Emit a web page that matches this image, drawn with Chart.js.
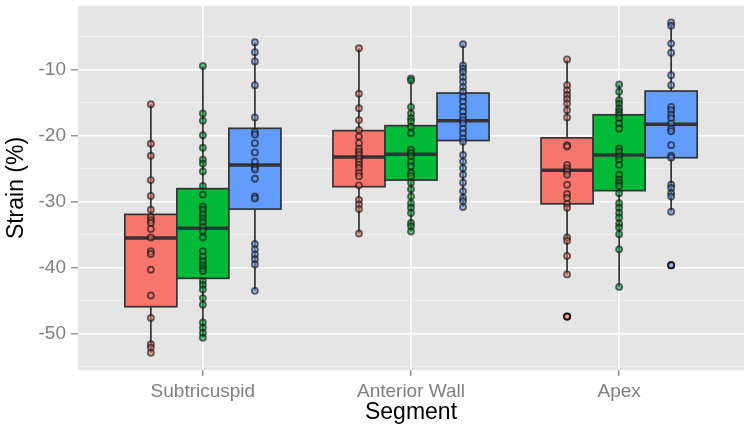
<!DOCTYPE html>
<html>
<head>
<meta charset="utf-8">
<script src="https://cdn.jsdelivr.net/npm/chart.js@4.4.1/dist/chart.umd.min.js"></script>
<style>
  html, body { margin: 0; padding: 0; background: #ffffff; }
</style>
</head>
<body>
<canvas id="myChart" width="750" height="437"></canvas>
<script>
// categories on the x axis
const segments = ['Subtricuspid', 'Anterior Wall', 'Apex'];
const yLabels = [-50, -40, -30, -20, -10];
const yMinor = [-55, -45, -35, -25, -15, -5];

// strain values per group, one list per segment (Subtricuspid, Anterior Wall, Apex)
const groupAValues = [
  [-15.2, -21.2, -23.0, -26.7, -29.1, -31.2, -32.3, -32.8, -33.2, -34.1, -35.4, -37.5, -37.9, -40.3, -44.2, -47.6, -51.6, -52.1, -52.9],
  [-6.7, -13.6, -15.8, -17.6, -19.1, -20.1, -21.1, -21.9, -22.4, -22.9, -23.4, -23.9, -24.4, -24.9, -25.6, -26.1, -27.5, -29.7, -30.4, -31.1, -34.8],
  [-8.4, -12.3, -13.1, -13.8, -14.4, -15.1, -16.1, -17.2, -21.4, -21.6, -24.4, -24.9, -25.4, -25.9, -27.4, -28.8, -29.4, -30.3, -30.9, -35.4, -35.9, -38.2, -41.0, -47.4]
];
const groupBValues = [
  [-9.4, -16.6, -17.7, -19.9, -21.8, -23.6, -24.2, -25.4, -27.6, -28.9, -30.7, -31.2, -31.9, -32.5, -33.1, -33.8, -34.4, -35.4, -37.5, -38.3, -39.0, -39.6, -40.1, -40.5, -42.0, -42.6, -43.3, -44.6, -45.6, -48.3, -49.1, -49.9, -50.6],
  [-11.3, -11.6, -15.6, -16.6, -17.3, -17.8, -18.6, -19.6, -22.1, -22.6, -23.1, -23.9, -24.6, -25.6, -26.1, -27.1, -28.1, -29.2, -30.2, -30.9, -31.7, -33.2, -33.7, -34.5],
  [-12.2, -13.3, -14.6, -15.1, -15.8, -16.3, -16.8, -17.3, -18.1, -18.9, -21.9, -22.4, -23.1, -23.6, -24.4, -25.9, -26.6, -27.1, -27.6, -28.7, -30.2, -30.9, -31.7, -32.4, -33.3, -33.9, -34.9, -37.2, -42.9]
];
const groupCValues = [
  [-5.8, -7.3, -8.7, -12.3, -17.2, -19.4, -19.8, -21.1, -22.5, -23.9, -24.8, -25.1, -26.5, -29.2, -29.5, -36.4, -37.2, -38.0, -38.7, -39.5, -43.5],
  [-6.1, -9.3, -9.8, -10.3, -11.1, -11.8, -12.6, -13.3, -14.1, -14.8, -15.6, -16.3, -17.1, -17.6, -18.1, -18.9, -19.6, -20.4, -20.9, -22.9, -23.9, -24.9, -25.9, -27.1, -28.4, -29.4, -29.9, -30.8],
  [-2.8, -3.3, -6.0, -7.4, -10.8, -12.3, -15.6, -16.1, -16.8, -17.3, -18.1, -18.9, -19.3, -21.4, -23.0, -23.3, -27.4, -27.9, -28.7, -29.2, -31.5, -39.6]
];

// box summaries: [lower whisker, Q1, median, Q3, upper whisker]
const groupABoxes = [[-52.9, -45.9, -35.5, -31.9, -15.2], [-34.8, -27.7, -23.2, -19.2, -6.7], [-41.0, -30.3, -25.2, -20.3, -8.4]];
const groupBBoxes = [[-50.6, -41.6, -34.0, -28.0, -9.4], [-34.5, -26.7, -22.8, -18.45, -11.3], [-42.9, -28.3, -22.9, -16.8, -12.2]];
const groupCBoxes = [[-43.5, -31.1, -24.4, -18.85, -5.8], [-30.8, -20.7, -17.7, -13.5, -6.1], [-31.5, -23.3, -18.25, -13.2, -2.8]];

// outliers flagged by the boxplot
const groupAOutliers = [[], [], [-47.4]];
const groupBOutliers = [[], [], []];
const groupCOutliers = [[], [], [-39.6]];

const groupColors = ['#F8766D', '#00BA38', '#619CFF'];
const pointFills = ['rgba(248,118,109,0.55)', 'rgba(0,186,56,0.55)', 'rgba(97,156,255,0.55)'];
const groupOffsets = [-0.25, 0, 0.25];
const boxHalf = 0.125;
const fontFamily = '"Liberation Sans", Arial, sans-serif';

const allValues = [groupAValues, groupBValues, groupCValues];
const allBoxes = [groupABoxes, groupBBoxes, groupCBoxes];
const allOutliers = [groupAOutliers, groupBOutliers, groupCOutliers];

function toPoints(values, g) {
  let pts = [];
  values.forEach((list, i) => {
    list.forEach(v => pts.push({x: i + 1 + groupOffsets[g], y: v}));
  });
  return pts;
}

let datasets = allValues.map((values, g) => ({
  data: toPoints(values, g),
  pointRadius: 3,
  pointBorderWidth: 1.9,
  pointBackgroundColor: pointFills[g],
  pointBorderColor: 'rgba(20,20,20,0.62)',
  pointHoverRadius: 3
}));
let outlierPts = [];
allOutliers.forEach((o, g) => { outlierPts = outlierPts.concat(toPoints(o, g)); });
datasets.push({
  data: outlierPts,
  pointRadius: 3,
  pointBorderWidth: 2,
  pointBackgroundColor: 'rgba(255,255,255,0.3)',
  pointBorderColor: '#000000'
});

// panel background
const panelPlugin = {
  id: 'panel',
  beforeDraw(chart) {
    const a = chart.chartArea;
    const ctx = chart.ctx;
    ctx.save();
    ctx.fillStyle = '#E5E5E5';
    ctx.fillRect(a.left, a.top, a.right - a.left, a.bottom - a.top);
    ctx.restore();
  }
};

// boxes and whiskers, drawn under the points
const boxPlugin = {
  id: 'boxes',
  beforeDatasetsDraw(chart) {
    const ctx = chart.ctx;
    const x = chart.scales.x, y = chart.scales.y;
    ctx.save();
    allBoxes.forEach((boxes, g) => {
      boxes.forEach((b, i) => {
        const pos = i + 1 + groupOffsets[g];
        const cx = x.getPixelForValue(pos);
        const left = x.getPixelForValue(pos - boxHalf);
        const right = x.getPixelForValue(pos + boxHalf);
        const yLo = y.getPixelForValue(b[0]), yQ1 = y.getPixelForValue(b[1]);
        const yMed = y.getPixelForValue(b[2]), yQ3 = y.getPixelForValue(b[3]);
        const yHi = y.getPixelForValue(b[4]);
        ctx.strokeStyle = '#333333';
        ctx.lineWidth = 1.7;
        ctx.beginPath();
        ctx.moveTo(cx, yHi); ctx.lineTo(cx, yQ3);
        ctx.moveTo(cx, yQ1); ctx.lineTo(cx, yLo);
        ctx.stroke();
        ctx.fillStyle = groupColors[g];
        ctx.fillRect(left, yQ3, right - left, yQ1 - yQ3);
        ctx.strokeRect(left, yQ3, right - left, yQ1 - yQ3);
        ctx.lineWidth = 3.5;
        ctx.beginPath();
        ctx.moveTo(left, yMed); ctx.lineTo(right, yMed);
        ctx.stroke();
      });
    });
    ctx.restore();
  }
};

const ctx = document.getElementById('myChart').getContext('2d');
const myChart = new Chart(ctx, {
  type: 'scatter',
  data: { datasets: datasets },
  plugins: [panelPlugin, boxPlugin],
  options: {
    responsive: false,
    animation: false,
    layout: { padding: { top: 4, right: 4, left: 0, bottom: 0 } },
    plugins: { legend: { display: false }, tooltip: { enabled: false } },
    scales: {
      x: {
        type: 'linear',
        min: 0.4,
        max: 3.6,
        afterBuildTicks: s => { s.ticks = segments.map((_, i) => ({ value: i + 1 })); },
        afterFit: s => { s.height = 67; s.paddingLeft = 0; s.paddingRight = 0; },
        ticks: {
          callback: v => segments[Math.round(v) - 1] || '',
          color: '#7F7F7F',
          font: { family: fontFamily, size: 19 },
          padding: 4,
          autoSkip: false,
          maxRotation: 0
        },
        grid: { color: '#FFFFFF', lineWidth: 1.6, tickColor: '#7F7F7F', tickLength: 6, tickWidth: 1.2 },
        border: { display: false },
        title: {
          display: true, text: 'Segment', color: '#000000',
          font: { family: fontFamily, size: 23 }, padding: { top: 0, bottom: 11 }
        }
      },
      y: {
        type: 'linear',
        min: -55.5,
        max: -0.3,
        afterBuildTicks: s => {
          s.ticks = yMinor.concat(yLabels).sort((a, b) => a - b).map(v => ({ value: v }));
        },
        afterFit: s => { s.width = 78; s.paddingTop = 0; s.paddingBottom = 0; },
        ticks: {
          callback: v => (yLabels.includes(v) ? String(v) : ''),
          color: '#7F7F7F',
          font: { family: fontFamily, size: 19 },
          padding: 5,
          autoSkip: false
        },
        grid: {
          color: c => (yLabels.includes(c.tick && c.tick.value) ? '#FFFFFF' : '#F2F2F2'),
          lineWidth: c => (yLabels.includes(c.tick && c.tick.value) ? 1.6 : 0.8),
          tickColor: c => (yLabels.includes(c.tick && c.tick.value) ? '#7F7F7F' : 'rgba(0,0,0,0)'),
          tickLength: 7,
          tickWidth: 1.2
        },
        border: { display: false },
        title: {
          display: true, text: 'Strain (%)', color: '#000000',
          font: { family: fontFamily, size: 23 }, padding: { top: 3, bottom: 0 }
        }
      }
    }
  }
});
</script>
</body>
</html>
